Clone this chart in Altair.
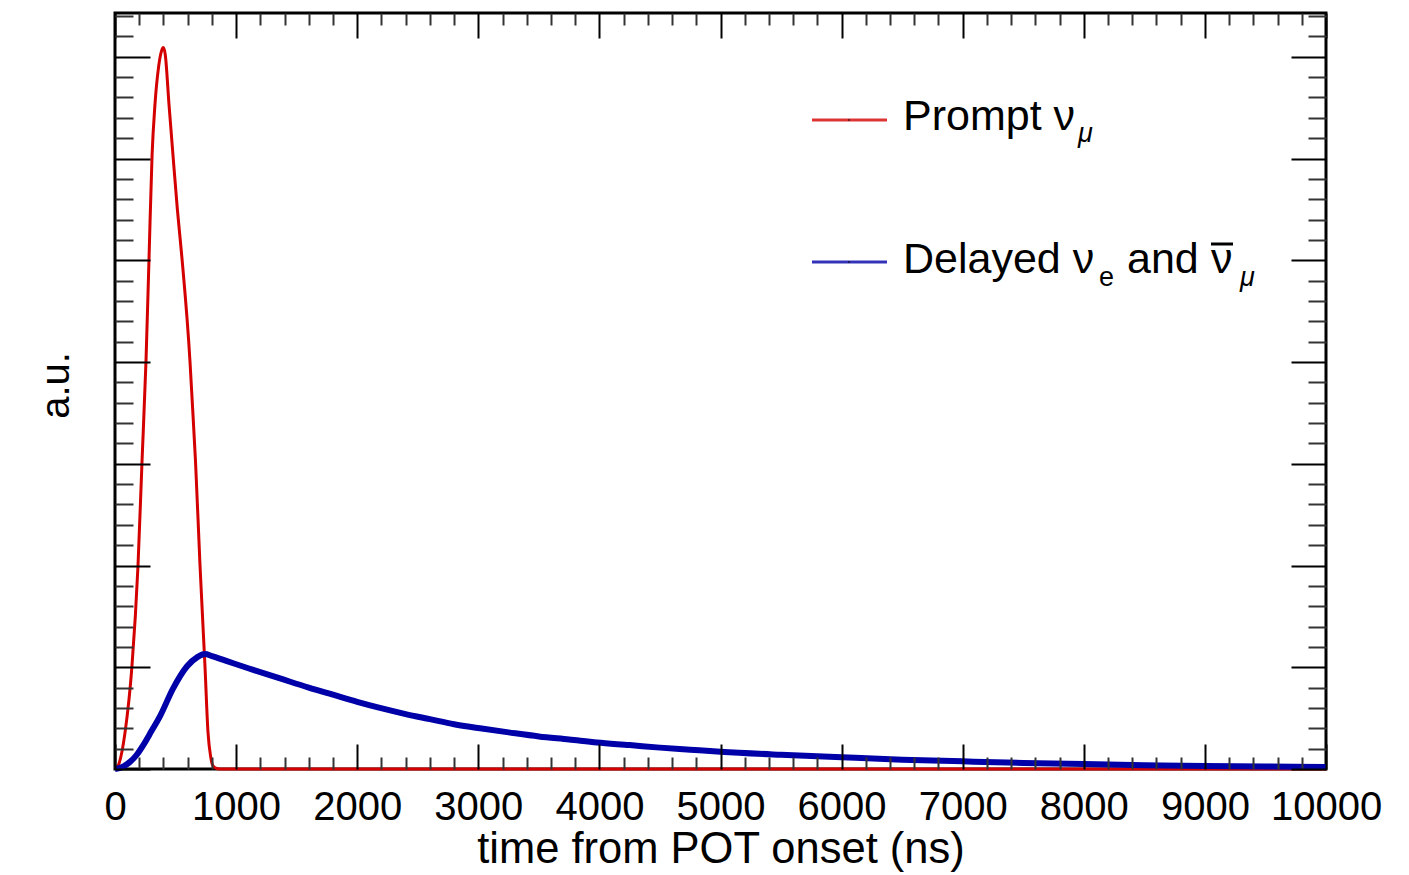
import altair as alt
import pandas as pd

# ---- data ----
time_red = [0, 25, 83, 140, 190, 223, 256, 281, 306, 330, 360, 385, 399, 415,
            446, 479, 515, 553, 619, 636, 665, 702, 743, 768, 790, 809, 840, 867, 1000, 10000]
val_red = [0, 0.03, 0.36, 1.01, 2.0, 3.02, 4.01, 5.02, 6.03, 6.53, 6.9, 7.06, 7.09, 7.02,
           6.53, 6.03, 5.5, 5.02, 4.01, 3.65, 3.02, 2.0, 1.01, 0.36, 0.12, 0.03, 0.005, 0, 0, 0]

time_blue = [0, 60, 124, 180, 231, 300, 372, 479, 595, 680, 743, 800, 925, 1100, 1363, 1600,
             1800, 2000, 2188, 2400, 2600, 2800, 3014, 3250, 3500, 3750, 3980, 4250, 4500,
             4750, 5000, 5500, 6000, 6500, 7000, 7500, 8000, 8500, 9000, 9500, 10000]
val_blue = [0, 0.02, 0.07, 0.14, 0.23, 0.37, 0.52, 0.79, 1.01, 1.10, 1.13, 1.11, 1.06, 0.99,
            0.89, 0.80, 0.73, 0.66, 0.60, 0.54, 0.49, 0.44, 0.40, 0.36, 0.32, 0.29, 0.26,
            0.235, 0.21, 0.19, 0.17, 0.14, 0.115, 0.092, 0.075, 0.06, 0.048, 0.038, 0.03,
            0.025, 0.02]

x_major = [0, 1000, 2000, 3000, 4000, 5000, 6000, 7000, 8000, 9000, 10000]
x_minor = [v for v in range(0, 10001, 200) if v % 1000 != 0]
y_major = [0, 1, 2, 3, 4, 5, 6, 7]
y_minor = [i / 5 for i in range(0, 38) if i % 5 != 0]

x_title = "time from POT onset (ns)"
y_title = "a.u."

df_red = pd.DataFrame({"t": time_red, "v": val_red})
df_blue = pd.DataFrame({"t": time_blue, "v": val_blue})
one = pd.DataFrame({"k": [0]})

FONT = "Liberation Sans"
W, H = 1211, 756
RED = "#d40000"
BLUE = "#0000a8"

xs = alt.Scale(domain=[0, 10000], nice=False, zero=False)
ys = alt.Scale(domain=[0, 7.43], nice=False, zero=False)


def tick_axis(orient, values, size, color="black"):
    return alt.Axis(orient=orient, values=values, labels=False, domain=False,
                    ticks=True, tickSize=size, offset=-size, tickColor=color,
                    tickWidth=2, title="", grid=False, zindex=1)


# main layers with label/title axes
red = alt.Chart(df_red).mark_line(color=RED, strokeWidth=3, interpolate="monotone").encode(
    x=alt.X("t:Q", scale=xs, axis=alt.Axis(
        orient="bottom", values=x_major, labels=True, ticks=False, tickSize=0,
        domain=False, grid=False, labelFontSize=40, labelFont=FONT, labelColor="black",
        labelPadding=18, labelFlush=False, labelOverlap=False, format="d",
        title=x_title, titleFontSize=43.5, titleFont=FONT, titleFontWeight="normal",
        titleColor="black", titleBaseline="alphabetic", titleX=W / 2, titleY=93)),
    y=alt.Y("v:Q", scale=ys, axis=alt.Axis(
        orient="left", labels=False, ticks=False, tickSize=0, domain=False, grid=False,
        title=y_title, titleFontSize=40, titleFont=FONT, titleFontWeight="normal",
        titleColor="black", titleAngle=270, titleBaseline="alphabetic",
        titleAlign="center", titleX=-47, titleY=372)),
)

blue = alt.Chart(df_blue).mark_line(color=BLUE, strokeWidth=6, interpolate="monotone").encode(
    x=alt.X("t:Q", scale=xs, axis=tick_axis("bottom", x_major, 25)),
    y=alt.Y("v:Q", scale=ys, axis=tick_axis("left", y_major, 35)),
)

d3 = alt.Chart(df_red).mark_line(opacity=0).encode(
    x=alt.X("t:Q", scale=xs, axis=tick_axis("bottom", x_minor, 12, "#333333")),
    y=alt.Y("v:Q", scale=ys, axis=tick_axis("left", y_minor, 18, "#333333")),
)
d4 = alt.Chart(df_red).mark_line(opacity=0).encode(
    x=alt.X("t:Q", scale=xs, axis=tick_axis("top", x_major, 25)),
    y=alt.Y("v:Q", scale=ys, axis=tick_axis("right", y_major, 35)),
)
d5 = alt.Chart(df_red).mark_line(opacity=0).encode(
    x=alt.X("t:Q", scale=xs, axis=tick_axis("top", x_minor, 12, "#333333")),
    y=alt.Y("v:Q", scale=ys, axis=tick_axis("right", y_minor, 18, "#333333")),
)

# ---- legend (manual, to allow sub/superscripts) ----
L = 115
T = 13


def txt(s, x, y, size, style="normal"):
    return alt.Chart(one).mark_text(text=s, font=FONT, fontSize=size, align="left",
                                    fontStyle=style, baseline="alphabetic",
                                    color="black").encode(
        x=alt.value(x - L), y=alt.value(y - T))


def swatch(color, y):
    line = alt.Chart(one).mark_rule(color=color, strokeWidth=3, opacity=0.8).encode(
        x=alt.value(812 - L), x2=alt.value(887 - L), y=alt.value(y - T))
    dot = alt.Chart(one).mark_point(shape="square", filled=True, color="black",
                                    size=3, opacity=0.7).encode(
        x=alt.value(849 - L), y=alt.value(y - T))
    return line + dot


leg = (
    swatch(RED, 120) + swatch(BLUE, 262)
    + txt("Prompt ν", 903, 130, 43) + txt("μ", 1078, 142, 27, "italic")
    + txt("Delayed ν", 903, 273, 43) + txt("e", 1099, 286, 27)
    + txt("and", 1127, 273, 43) + txt("ν", 1211, 273, 43) + txt("μ", 1240, 286, 27, "italic")
    + alt.Chart(one).mark_rule(color="black", strokeWidth=3).encode(
        x=alt.value(1211 - L), x2=alt.value(1233 - L), y=alt.value(244 - T))
)

chart = alt.layer(red, blue, d3, d4, d5, leg).resolve_axis(
    x="independent", y="independent"
).properties(
    width=W, height=H,
    autosize=alt.AutoSizeParams(type="none"),
    padding={"left": 115, "top": 13, "right": 1409 - 115 - W, "bottom": 875 - 13 - H},
    background="white",
).configure_view(stroke="black", strokeWidth=3).configure_axis(grid=False)

chart.save("out.html", embed_options={"renderer": "svg", "actions": False})
